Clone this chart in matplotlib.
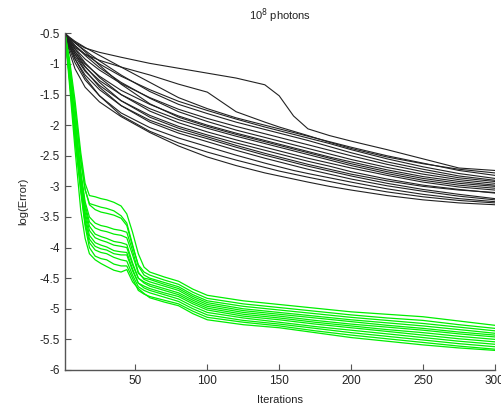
#!/usr/bin/env python3

import matplotlib
matplotlib.use("Agg")
import matplotlib.pyplot as plt
from matplotlib.ticker import FormatStrFormatter

black_iters = [1, 4, 8, 15, 25, 40, 60, 80, 100, 120, 140, 150, 160, 170, 185, 200, 225, 250, 275, 300]
green_iters = [1, 4, 8, 12, 15, 18, 22, 26, 30, 35, 40, 44, 48, 52, 56,
               60, 70, 80, 90, 100, 125, 150, 175, 200, 225, 250, 275, 300]

# black runs, log(Error) at black_iters
black_runs = [
    [-0.5, -0.58, -0.65, -0.74, -0.81, -0.89, -0.99, -1.07, -1.15, -1.23, -1.34, -1.52, -1.85, -2.06, -2.17, -2.26, -2.40, -2.55, -2.70, -2.74],
    [-0.5, -0.62, -0.73, -0.84, -0.94, -1.05, -1.18, -1.33, -1.46, -1.78, -1.95, -2.03, -2.10, -2.17, -2.28, -2.38, -2.52, -2.63, -2.72, -2.78],
    [-0.5, -0.56, -0.63, -0.73, -0.86, -1.05, -1.30, -1.55, -1.73, -1.88, -2.00, -2.06, -2.12, -2.18, -2.27, -2.36, -2.50, -2.62, -2.74, -2.82],
    [-0.5, -0.60, -0.70, -0.84, -1.00, -1.20, -1.42, -1.61, -1.76, -1.90, -2.03, -2.09, -2.15, -2.21, -2.30, -2.40, -2.55, -2.68, -2.79, -2.87],
    [-0.5, -0.58, -0.66, -0.78, -0.95, -1.18, -1.45, -1.66, -1.81, -1.95, -2.07, -2.13, -2.19, -2.25, -2.35, -2.45, -2.60, -2.72, -2.83, -2.90],
    [-0.5, -0.63, -0.75, -0.92, -1.10, -1.32, -1.55, -1.74, -1.89, -2.02, -2.14, -2.20, -2.26, -2.32, -2.41, -2.50, -2.64, -2.76, -2.86, -2.92],
    [-0.5, -0.60, -0.70, -0.86, -1.06, -1.30, -1.56, -1.78, -1.94, -2.08, -2.20, -2.26, -2.32, -2.38, -2.47, -2.56, -2.69, -2.80, -2.89, -2.95],
    [-0.5, -0.66, -0.80, -1.00, -1.20, -1.43, -1.66, -1.85, -2.00, -2.13, -2.25, -2.31, -2.37, -2.43, -2.52, -2.60, -2.73, -2.84, -2.92, -2.98],
    [-0.5, -0.57, -0.65, -0.80, -1.02, -1.33, -1.65, -1.87, -2.02, -2.15, -2.27, -2.33, -2.39, -2.45, -2.54, -2.63, -2.76, -2.87, -2.95, -3.00],
    [-0.5, -0.68, -0.84, -1.05, -1.27, -1.50, -1.73, -1.91, -2.05, -2.18, -2.30, -2.36, -2.42, -2.48, -2.57, -2.66, -2.79, -2.90, -2.98, -3.03],
    [-0.5, -0.62, -0.76, -0.98, -1.22, -1.50, -1.77, -1.96, -2.11, -2.24, -2.36, -2.42, -2.48, -2.54, -2.62, -2.70, -2.82, -2.93, -3.01, -3.06],
    [-0.5, -0.70, -0.88, -1.12, -1.35, -1.60, -1.84, -2.02, -2.16, -2.29, -2.41, -2.47, -2.53, -2.59, -2.67, -2.76, -2.88, -2.98, -3.05, -3.11],
    [-0.5, -0.64, -0.80, -1.04, -1.30, -1.60, -1.87, -2.05, -2.19, -2.33, -2.46, -2.52, -2.58, -2.64, -2.72, -2.80, -2.91, -3.00, -3.06, -3.10],
    [-0.5, -0.72, -0.92, -1.18, -1.42, -1.68, -1.92, -2.09, -2.22, -2.36, -2.49, -2.55, -2.61, -2.67, -2.75, -2.83, -2.95, -3.05, -3.13, -3.20],
    [-0.5, -0.66, -0.84, -1.10, -1.38, -1.68, -1.95, -2.13, -2.27, -2.41, -2.54, -2.60, -2.66, -2.72, -2.80, -2.88, -2.99, -3.08, -3.16, -3.22],
    [-0.5, -0.75, -0.98, -1.26, -1.52, -1.80, -2.04, -2.21, -2.35, -2.49, -2.62, -2.68, -2.74, -2.79, -2.86, -2.93, -3.04, -3.13, -3.20, -3.25],
    [-0.5, -0.70, -0.92, -1.22, -1.52, -1.84, -2.10, -2.29, -2.44, -2.57, -2.69, -2.75, -2.80, -2.85, -2.92, -2.99, -3.09, -3.17, -3.23, -3.27],
    [-0.5, -0.80, -1.08, -1.38, -1.62, -1.86, -2.12, -2.34, -2.52, -2.66, -2.78, -2.83, -2.88, -2.93, -3.00, -3.06, -3.15, -3.22, -3.27, -3.30],
]

# green runs, log(Error) at green_iters
green_runs = [
    [-0.5, -0.90, -1.60, -2.45, -2.95, -3.15, -3.17, -3.20, -3.22, -3.26, -3.32, -3.45, -3.75, -4.10, -4.32,
     -4.40, -4.48, -4.55, -4.68, -4.78, -4.87, -4.93, -4.99, -5.05, -5.09, -5.13, -5.20, -5.27],
    [-0.5, -0.98, -1.75, -2.60, -3.05, -3.28, -3.31, -3.34, -3.36, -3.40, -3.48, -3.60, -3.95, -4.30, -4.45,
     -4.50, -4.57, -4.64, -4.77, -4.87, -4.96, -5.02, -5.08, -5.14, -5.19, -5.24, -5.30, -5.36],
    [-0.5, -0.96, -1.72, -2.55, -3.05, -3.30, -3.38, -3.42, -3.44, -3.47, -3.52, -3.64, -3.98, -4.28, -4.40,
     -4.45, -4.53, -4.60, -4.73, -4.83, -4.92, -4.98, -5.04, -5.10, -5.15, -5.19, -5.26, -5.32],
    [-0.5, -1.05, -1.90, -2.75, -3.25, -3.50, -3.60, -3.64, -3.66, -3.70, -3.72, -3.75, -4.05, -4.40, -4.52,
     -4.56, -4.63, -4.70, -4.83, -4.93, -5.03, -5.09, -5.15, -5.21, -5.27, -5.32, -5.38, -5.43],
    [-0.5, -1.08, -1.95, -2.80, -3.30, -3.58, -3.68, -3.72, -3.74, -3.78, -3.80, -3.84, -4.12, -4.42, -4.50,
     -4.52, -4.60, -4.67, -4.80, -4.90, -5.00, -5.06, -5.12, -5.18, -5.23, -5.28, -5.34, -5.40],
    [-0.5, -1.10, -2.00, -2.85, -3.35, -3.65, -3.78, -3.82, -3.85, -3.90, -3.92, -3.95, -4.25, -4.50, -4.58,
     -4.63, -4.70, -4.77, -4.89, -4.99, -5.09, -5.15, -5.22, -5.28, -5.34, -5.39, -5.45, -5.50],
    [-0.5, -1.12, -2.05, -2.90, -3.42, -3.72, -3.84, -3.88, -3.91, -3.96, -3.98, -4.00, -4.28, -4.50, -4.56,
     -4.60, -4.67, -4.74, -4.86, -4.96, -5.06, -5.12, -5.19, -5.25, -5.30, -5.35, -5.41, -5.46],
    [-0.5, -1.15, -2.10, -2.95, -3.48, -3.80, -3.92, -3.96, -3.99, -4.05, -4.07, -4.08, -4.35, -4.58, -4.66,
     -4.70, -4.77, -4.84, -4.96, -5.06, -5.15, -5.22, -5.29, -5.35, -5.41, -5.47, -5.53, -5.58],
    [-0.5, -1.18, -2.15, -3.00, -3.55, -3.86, -3.98, -4.02, -4.04, -4.10, -4.12, -4.12, -4.38, -4.58, -4.63,
     -4.67, -4.74, -4.80, -4.92, -5.02, -5.12, -5.18, -5.25, -5.31, -5.37, -5.43, -5.49, -5.54],
    [-0.5, -1.20, -2.20, -3.05, -3.60, -3.92, -4.04, -4.08, -4.10, -4.16, -4.20, -4.22, -4.45, -4.64, -4.70,
     -4.74, -4.81, -4.88, -5.00, -5.10, -5.19, -5.25, -5.32, -5.39, -5.45, -5.51, -5.57, -5.62],
    [-0.5, -1.22, -2.25, -3.10, -3.65, -4.00, -4.14, -4.18, -4.20, -4.27, -4.30, -4.30, -4.50, -4.70, -4.76,
     -4.80, -4.86, -4.92, -5.04, -5.14, -5.22, -5.28, -5.36, -5.43, -5.49, -5.55, -5.61, -5.66],
    [-0.5, -1.30, -2.40, -3.40, -3.85, -4.10, -4.20, -4.26, -4.31, -4.37, -4.40, -4.36, -4.56, -4.67, -4.75,
     -4.82, -4.89, -4.95, -5.08, -5.18, -5.26, -5.31, -5.39, -5.47, -5.53, -5.59, -5.64, -5.68],
]

x_ticks = [50, 100, 150, 200, 250, 300]
y_ticks = [-6, -5.5, -5, -4.5, -4, -3.5, -3, -2.5, -2, -1.5, -1, -0.5]


def main():
    plt.rcParams["font.family"] = ["Liberation Sans", "DejaVu Sans"]
    plt.rcParams["axes.unicode_minus"] = False

    fig = plt.figure(figsize=(5.01, 4.12), dpi=100)
    ax = fig.add_axes([0.1297, 0.102, 0.858, 0.817])

    for run in black_runs:
        ax.plot(black_iters, run, color="#222222", linewidth=0.8)
    for run in green_runs:
        ax.plot(green_iters, run, color="#00ee00", linewidth=0.9)

    ax.set_xlim(1, 300)
    ax.set_ylim(-6, -0.5)
    ax.set_xticks(x_ticks)
    ax.set_yticks(y_ticks)
    ax.yaxis.set_major_formatter(FormatStrFormatter("%g"))

    for side in ("top", "right"):
        ax.spines[side].set_visible(False)
    for side in ("left", "bottom"):
        ax.spines[side].set_color("#555555")
        ax.spines[side].set_linewidth(1.0)
    ax.tick_params(direction="in", length=4, width=0.8, colors="#555555",
                   labelcolor="#222222", labelsize=8.5)

    ax.set_title("10$^8$ photons", fontsize=8, color="#222222", pad=10)
    ax.set_xlabel("Iterations", fontsize=8, color="#222222", labelpad=6)
    ax.set_ylabel("log(Error)", fontsize=8, color="#222222", labelpad=8)

    fig.savefig("out.png", dpi=100)


if __name__ == "__main__":
    main()
